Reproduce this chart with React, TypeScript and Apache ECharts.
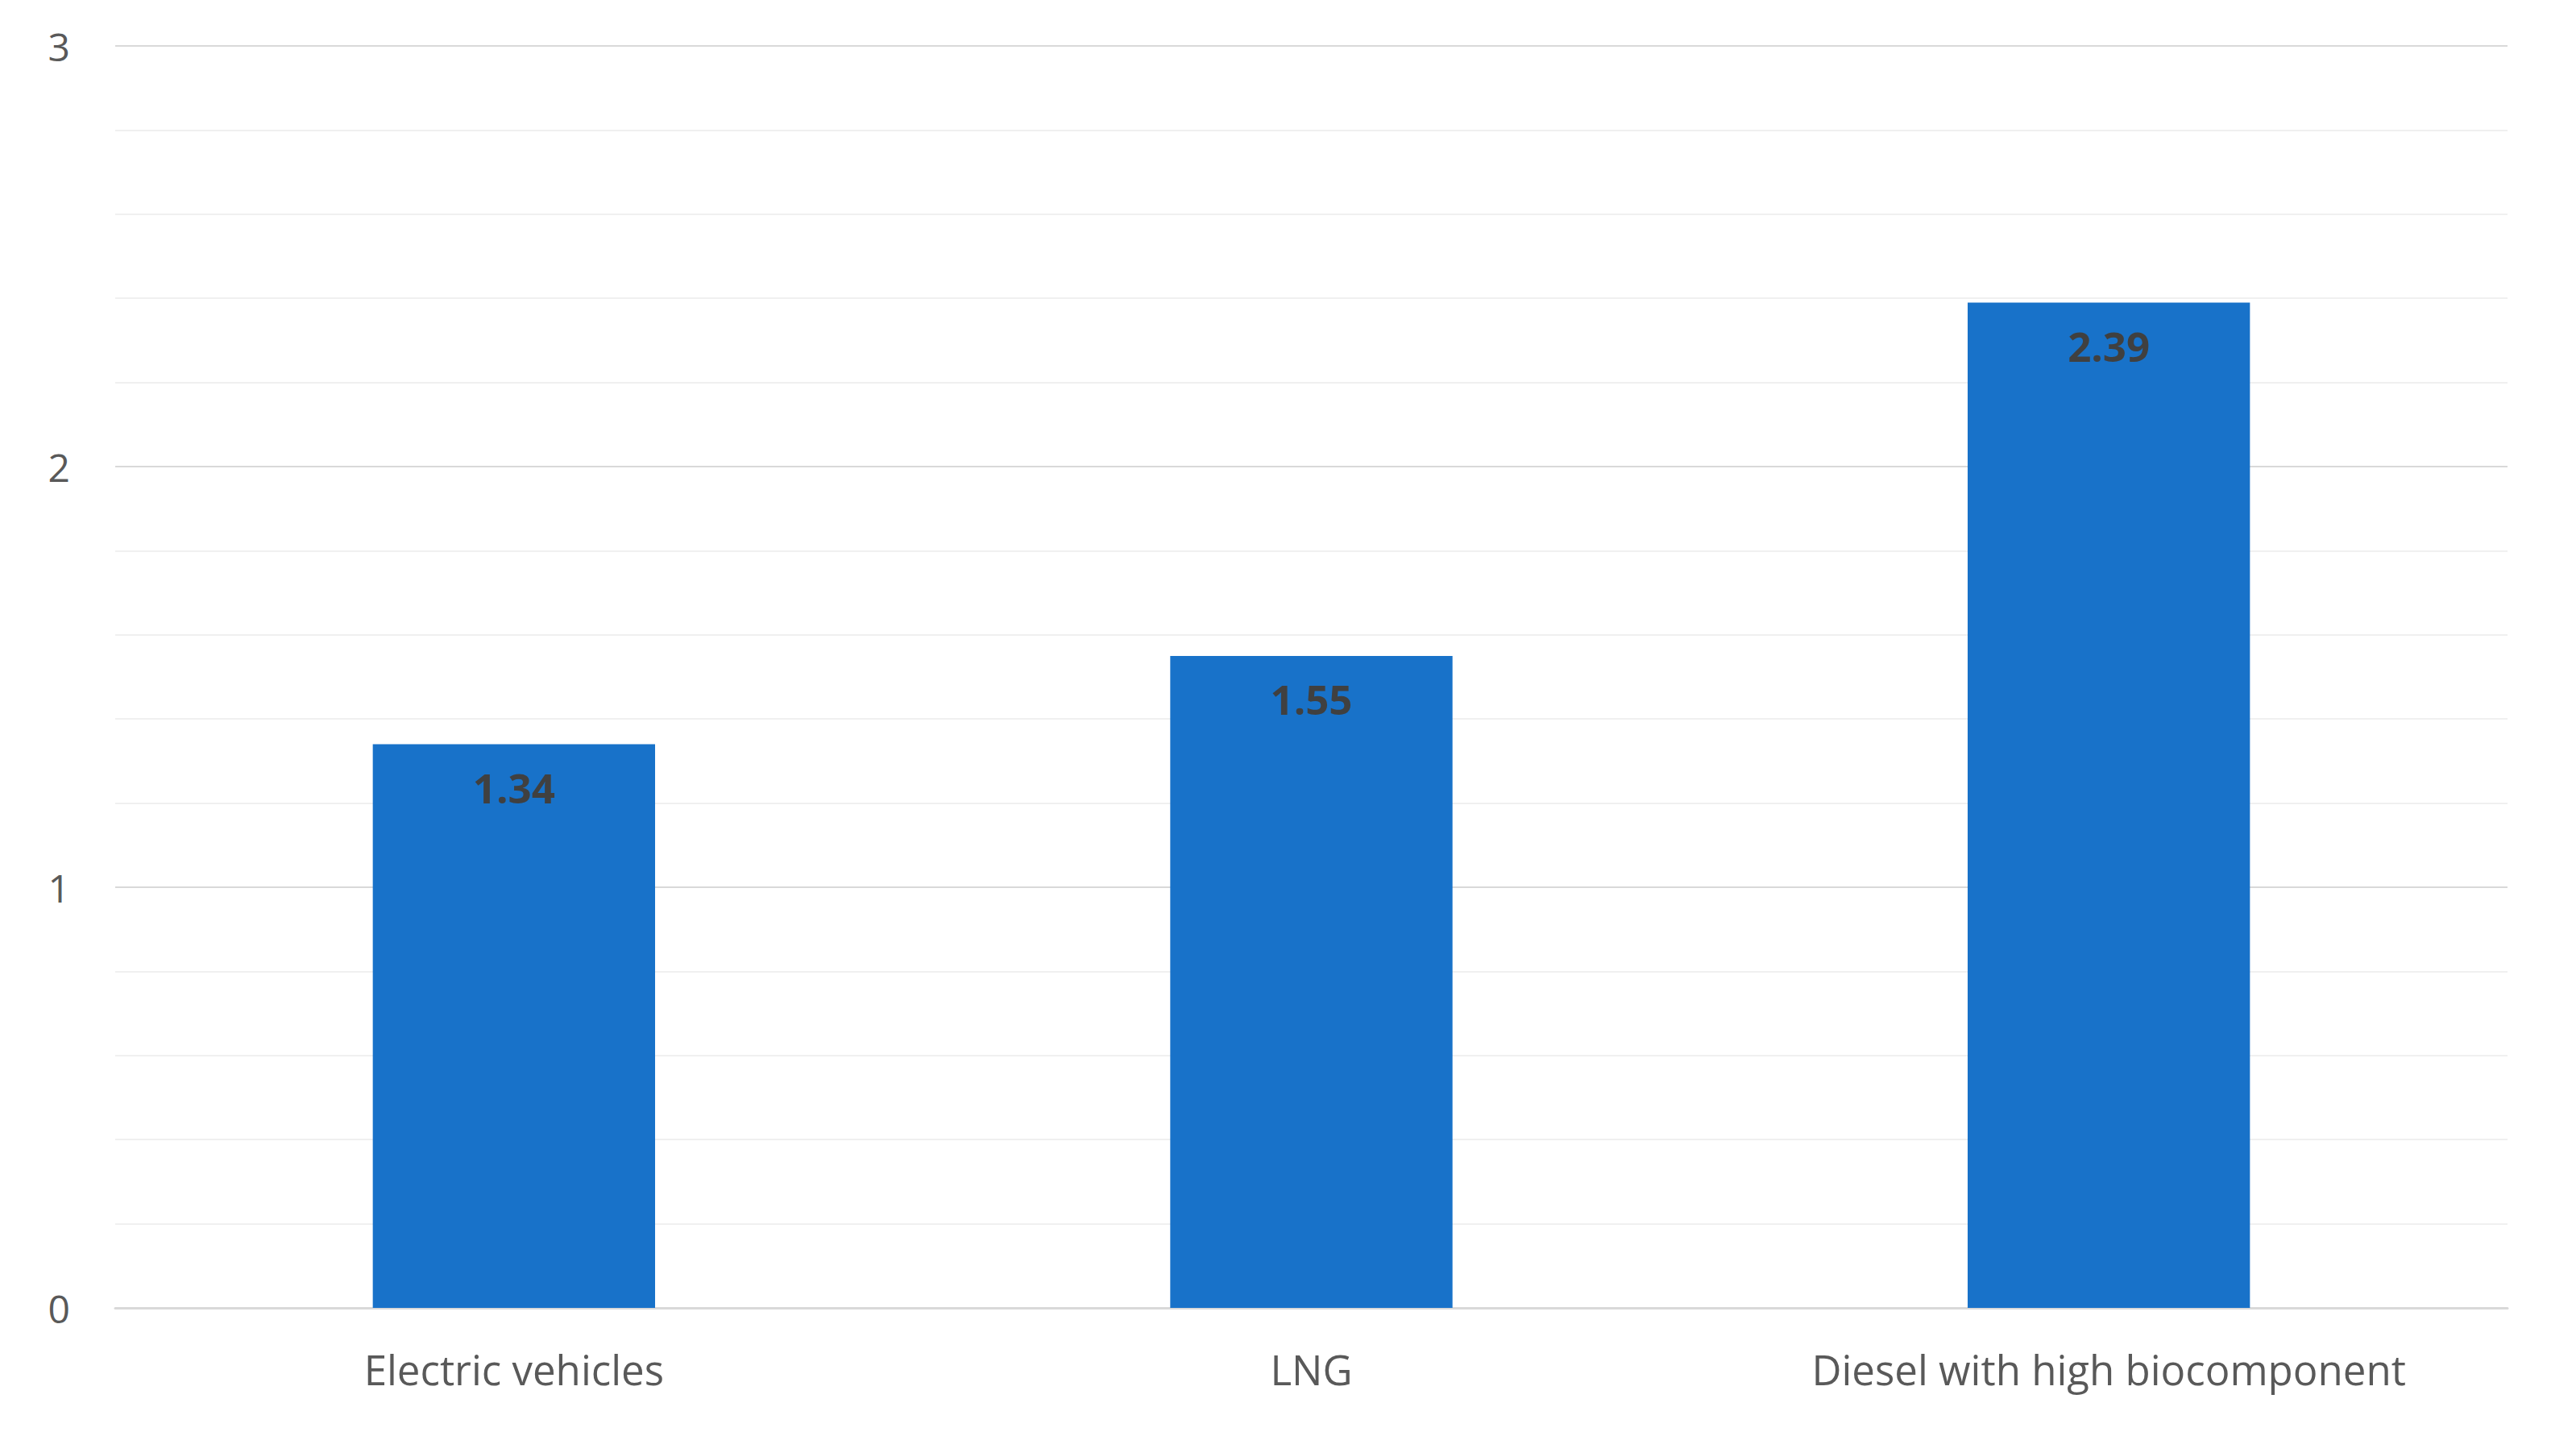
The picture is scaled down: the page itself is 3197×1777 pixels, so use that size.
import React, { useEffect, useRef } from "react";
import * as echarts from "echarts";

const categories = ["Electric vehicles", "LNG", "Diesel with high biocomponent"];
const values = [1.34, 1.55, 2.39];
const yTicks = [0, 1, 2, 3];

export default function App() {
  const ref = useRef<HTMLDivElement>(null);
  useEffect(() => {
    document.body.style.margin = "0";
    const chart = echarts.init(ref.current!, null, { renderer: "svg" });
    chart.setOption({
      animation: false,
      backgroundColor: "#ffffff",
      textStyle: { fontFamily: "Open Sans" },
      grid: { left: 143, right: 85, top: 57, bottom: 154, containLabel: false },
      xAxis: {
        type: "category",
        data: categories,
        axisTick: { show: false },
        axisLine: { show: true, lineStyle: { color: "#d9d9d9", width: 3 } },
        axisLabel: { color: "#595959", fontSize: 51, margin: 50, fontFamily: "Open Sans" },
      },
      yAxis: {
        type: "value",
        min: yTicks[0],
        max: yTicks[yTicks.length - 1],
        interval: 1,
        axisLine: { show: false },
        axisTick: { show: false },
        axisLabel: { color: "#595959", fontSize: 48, margin: 56, fontFamily: "Open Sans" },
        splitLine: { show: true, lineStyle: { color: "#d9d9d9", width: 2 } },
        minorTick: { show: false, splitNumber: 5 },
        minorSplitLine: { show: true, lineStyle: { color: "#f0f0f0", width: 2 } },
      },
      series: [
        {
          type: "bar",
          data: values,
          barWidth: "35.4%",
          itemStyle: { color: "#1872c9" },
          label: {
            show: true,
            position: "insideTop",
            distance: 28,
            color: "#404040",
            fontSize: 51,
            fontWeight: "bold",
            fontFamily: "Open Sans",
            formatter: (p: any) => p.value.toFixed(2),
          },
        },
      ],
    });
    return () => chart.dispose();
  }, []);
  return <div ref={ref} style={{ width: 3197, height: 1777 }} />;
}
